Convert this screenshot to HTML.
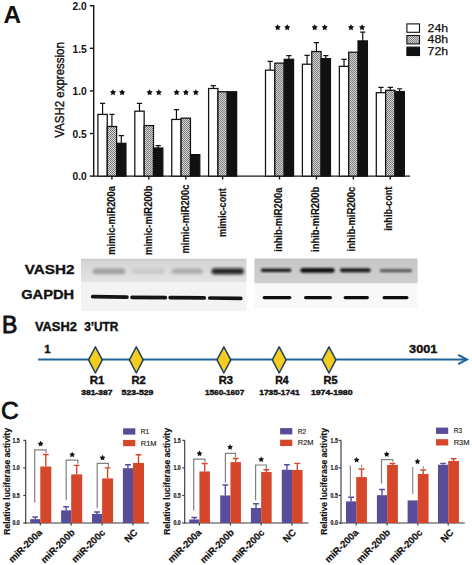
<!DOCTYPE html>
<html><head><meta charset="utf-8"><title>VASH2 figure</title>
<style>
html,body{margin:0;padding:0;background:#fff;}
body{width:472px;height:565px;overflow:hidden;}
svg{display:block;font-family:"Liberation Sans",sans-serif;}
</style></head><body>
<svg width="472" height="565" viewBox="0 0 472 565">
<defs>
<pattern id="chk" width="2" height="2" patternUnits="userSpaceOnUse">
<rect width="2" height="2" fill="#d6d6d6"/><rect width="1" height="1" fill="#7c7c7c"/><rect x="1" y="1" width="1" height="1" fill="#7c7c7c"/>
</pattern>
<linearGradient id="gl" x1="0" y1="0" x2="0" y2="1"><stop offset="0" stop-color="#c8c8c8"/><stop offset="0.12" stop-color="#d6d6d6"/><stop offset="0.6" stop-color="#dddddd"/><stop offset="1" stop-color="#e4e4e4"/></linearGradient>
<linearGradient id="gr" x1="0" y1="0" x2="0" y2="1"><stop offset="0" stop-color="#c6c6c6"/><stop offset="0.5" stop-color="#cbcbcb"/><stop offset="1" stop-color="#cfcfcf"/></linearGradient>
<filter id="b1_5" x="-20%" y="-150%" width="140%" height="400%"><feGaussianBlur stdDeviation="1.5"/></filter><filter id="b0_9" x="-20%" y="-150%" width="140%" height="400%"><feGaussianBlur stdDeviation="0.9"/></filter><filter id="b0_7" x="-20%" y="-150%" width="140%" height="400%"><feGaussianBlur stdDeviation="0.7"/></filter><filter id="b0_75" x="-20%" y="-150%" width="140%" height="400%"><feGaussianBlur stdDeviation="0.75"/></filter>
</defs>
<rect width="472" height="565" fill="#fff"/>
<g id="panelA">
<text x="3.4" y="22.8" font-size="24.3" font-weight="bold" fill="#111">A</text>
<g stroke="#1a1a1a" stroke-width="1.4" fill="none">
<line x1="93.7" y1="5.1" x2="93.7" y2="176.7"/>
<line x1="93.1" y1="176.1" x2="410" y2="176.1"/>
<line x1="89.8" y1="176.1" x2="93.7" y2="176.1"/>
<line x1="89.8" y1="133.5" x2="93.7" y2="133.5"/>
<line x1="89.8" y1="90.9" x2="93.7" y2="90.9"/>
<line x1="89.8" y1="48.3" x2="93.7" y2="48.3"/>
<line x1="89.8" y1="5.7" x2="93.7" y2="5.7"/>
<line x1="111.93" y1="176.1" x2="111.93" y2="179.5"/>
<line x1="148.83" y1="176.1" x2="148.83" y2="179.5"/>
<line x1="185.78" y1="176.1" x2="185.78" y2="179.5"/>
<line x1="222.62" y1="176.1" x2="222.62" y2="179.5"/>
<line x1="279.52" y1="176.1" x2="279.52" y2="179.5"/>
<line x1="316.42" y1="176.1" x2="316.42" y2="179.5"/>
<line x1="353.38" y1="176.1" x2="353.38" y2="179.5"/>
<line x1="390.32" y1="176.1" x2="390.32" y2="179.5"/>
</g>
<g font-size="10" font-weight="bold" fill="#111">
<text x="72.6" y="180.4" textLength="14.2" lengthAdjust="spacingAndGlyphs">0.0</text>
<text x="72.6" y="137.8" textLength="14.2" lengthAdjust="spacingAndGlyphs">0.5</text>
<text x="72.6" y="95.2" textLength="14.2" lengthAdjust="spacingAndGlyphs">1.0</text>
<text x="72.6" y="52.6" textLength="14.2" lengthAdjust="spacingAndGlyphs">1.5</text>
<text x="72.6" y="10" textLength="14.2" lengthAdjust="spacingAndGlyphs">2.0</text>
</g>
<text transform="translate(64.2,89.9) rotate(-90)" text-anchor="middle" font-size="12.2" fill="#111" stroke="#111" stroke-width="0.35" textLength="95.6" lengthAdjust="spacingAndGlyphs">VASH2 expression</text>
<g stroke="#111" stroke-width="1.25">
<rect x="97.9" y="114.42" width="9.35" height="61.68" fill="#ffffff"/>
<rect x="107.25" y="126.51" width="9.35" height="49.59" fill="url(#chk)"/>
<rect x="116.6" y="143.3" width="9.35" height="32.8" fill="#111111"/>
<rect x="134.8" y="111.18" width="9.35" height="64.92" fill="#ffffff"/>
<rect x="144.15" y="125.58" width="9.35" height="50.52" fill="url(#chk)"/>
<rect x="153.5" y="147.98" width="9.35" height="28.12" fill="#111111"/>
<rect x="171.75" y="119.44" width="9.35" height="56.66" fill="#ffffff"/>
<rect x="181.1" y="118.16" width="9.35" height="57.94" fill="url(#chk)"/>
<rect x="190.45" y="154.63" width="9.35" height="21.47" fill="#111111"/>
<rect x="208.6" y="88.51" width="9.35" height="87.59" fill="#ffffff"/>
<rect x="217.95" y="91.75" width="9.35" height="84.35" fill="url(#chk)"/>
<rect x="227.3" y="91.75" width="9.35" height="84.35" fill="#111111"/>
<rect x="265.5" y="70.2" width="9.35" height="105.9" fill="#ffffff"/>
<rect x="274.85" y="63.12" width="9.35" height="112.98" fill="url(#chk)"/>
<rect x="284.2" y="59.29" width="9.35" height="116.81" fill="#111111"/>
<rect x="302.4" y="64.23" width="9.35" height="111.87" fill="#ffffff"/>
<rect x="311.75" y="51.54" width="9.35" height="124.56" fill="url(#chk)"/>
<rect x="321.1" y="58.61" width="9.35" height="117.49" fill="#111111"/>
<rect x="339.35" y="66.36" width="9.35" height="109.74" fill="#ffffff"/>
<rect x="348.7" y="52.22" width="9.35" height="123.88" fill="url(#chk)"/>
<rect x="358.05" y="40.89" width="9.35" height="135.21" fill="#111111"/>
<rect x="376.3" y="92.69" width="9.35" height="83.41" fill="#ffffff"/>
<rect x="385.65" y="90.3" width="9.35" height="85.8" fill="url(#chk)"/>
<rect x="395" y="91.58" width="9.35" height="84.52" fill="#111111"/>
</g>
<g stroke="#111" stroke-width="1.2" fill="none">
<path d="M102.58 114.42V103.42M99.98 103.42H105.17"/>
<path d="M111.92 126.51V114.42M109.33 114.42H114.52"/>
<path d="M121.28 143.3V135.72M118.68 135.72H123.88"/>
<path d="M139.48 111.18V103.42M136.88 103.42H142.08"/>
<path d="M158.18 147.98V145.6M155.58 145.6H160.78"/>
<path d="M176.43 119.44V109.64M173.83 109.64H179.03"/>
<path d="M213.28 88.51V85.62M210.68 85.62H215.88"/>
<path d="M270.18 70.2V61.34M267.57 61.34H272.78"/>
<path d="M288.88 59.29V55.63M286.27 55.63H291.48"/>
<path d="M307.07 64.23V55.29M304.47 55.29H309.68"/>
<path d="M316.43 51.54V42.59M313.82 42.59H319.03"/>
<path d="M325.77 58.61V55.63M323.17 55.63H328.38"/>
<path d="M344.03 66.36V59.29M341.43 59.29H346.63"/>
<path d="M362.73 40.89V32.2M360.12 32.2H365.33"/>
<path d="M380.98 92.69V87.41M378.38 87.41H383.58"/>
<path d="M390.33 90.3V87.41M387.73 87.41H392.93"/>
<path d="M399.68 91.58V88.77M397.07 88.77H402.28"/>
</g>
<polygon points="113,89.25 114,91.12 116.09,91.5 114.62,93.03 114.91,95.13 113,94.2 111.09,95.13 111.38,93.03 109.91,91.5 112,91.12" fill="#111"/>
<polygon points="122.1,89.25 123.1,91.12 125.19,91.5 123.72,93.03 124.01,95.13 122.1,94.2 120.19,95.13 120.48,93.03 119.01,91.5 121.1,91.12" fill="#111"/>
<polygon points="149.6,89.25 150.6,91.12 152.69,91.5 151.22,93.03 151.51,95.13 149.6,94.2 147.69,95.13 147.98,93.03 146.51,91.5 148.6,91.12" fill="#111"/>
<polygon points="158.8,89.25 159.8,91.12 161.89,91.5 160.42,93.03 160.71,95.13 158.8,94.2 156.89,95.13 157.18,93.03 155.71,91.5 157.8,91.12" fill="#111"/>
<polygon points="176.6,89.25 177.6,91.12 179.69,91.5 178.22,93.03 178.51,95.13 176.6,94.2 174.69,95.13 174.98,93.03 173.51,91.5 175.6,91.12" fill="#111"/>
<polygon points="185.9,89.25 186.9,91.12 188.99,91.5 187.52,93.03 187.81,95.13 185.9,94.2 183.99,95.13 184.28,93.03 182.81,91.5 184.9,91.12" fill="#111"/>
<polygon points="195.8,89.25 196.8,91.12 198.89,91.5 197.42,93.03 197.71,95.13 195.8,94.2 193.89,95.13 194.18,93.03 192.71,91.5 194.8,91.12" fill="#111"/>
<polygon points="277.7,24.25 278.7,26.12 280.79,26.5 279.32,28.03 279.61,30.13 277.7,29.2 275.79,30.13 276.08,28.03 274.61,26.5 276.7,26.12" fill="#111"/>
<polygon points="287.2,24.25 288.2,26.12 290.29,26.5 288.82,28.03 289.11,30.13 287.2,29.2 285.29,30.13 285.58,28.03 284.11,26.5 286.2,26.12" fill="#111"/>
<polygon points="314.7,24.25 315.7,26.12 317.79,26.5 316.32,28.03 316.61,30.13 314.7,29.2 312.79,30.13 313.08,28.03 311.61,26.5 313.7,26.12" fill="#111"/>
<polygon points="324.7,24.25 325.7,26.12 327.79,26.5 326.32,28.03 326.61,30.13 324.7,29.2 322.79,30.13 323.08,28.03 321.61,26.5 323.7,26.12" fill="#111"/>
<polygon points="351,24.25 352,26.12 354.09,26.5 352.62,28.03 352.91,30.13 351,29.2 349.09,30.13 349.38,28.03 347.91,26.5 350,26.12" fill="#111"/>
<polygon points="362.1,24.25 363.1,26.12 365.19,26.5 363.72,28.03 364.01,30.13 362.1,29.2 360.19,30.13 360.48,28.03 359.01,26.5 361.1,26.12" fill="#111"/>
<g stroke="#111" stroke-width="1.1">
<rect x="406.9" y="23.9" width="12.6" height="8.4" fill="#ffffff"/>
<rect x="406.9" y="35.5" width="12.6" height="8.4" fill="url(#chk)"/>
<rect x="406.9" y="47.1" width="12.6" height="8.4" fill="#111111"/>
</g>
<g font-size="10.9" fill="#111" stroke="#111" stroke-width="0.25">
<text x="427.6" y="31.5" textLength="20.5" lengthAdjust="spacingAndGlyphs">24h</text>
<text x="427.6" y="43.15" textLength="20.5" lengthAdjust="spacingAndGlyphs">48h</text>
<text x="427.6" y="54.8" textLength="20.5" lengthAdjust="spacingAndGlyphs">72h</text>
</g>
<g font-size="10.4" font-weight="bold" fill="#111" stroke="#111" stroke-width="0.15">
<text transform="translate(115.33,254.7) rotate(-90)" textLength="68.7" lengthAdjust="spacingAndGlyphs">mimic-miR200a</text>
<text transform="translate(152.23,254.9) rotate(-90)" textLength="69.5" lengthAdjust="spacingAndGlyphs">mimic-miR200b</text>
<text transform="translate(189.18,253.5) rotate(-90)" textLength="68.9" lengthAdjust="spacingAndGlyphs">mimic-miR200c</text>
<text transform="translate(226.03,236.9) rotate(-90)" textLength="48.8" lengthAdjust="spacingAndGlyphs">mimic-cont</text>
<text transform="translate(281.62,251.7) rotate(-90)" textLength="64.1" lengthAdjust="spacingAndGlyphs">inhib-miR200a</text>
<text transform="translate(318.52,252) rotate(-90)" textLength="65.4" lengthAdjust="spacingAndGlyphs">inhib-miR200b</text>
<text transform="translate(355.48,251.4) rotate(-90)" textLength="64.8" lengthAdjust="spacingAndGlyphs">inhib-miR200c</text>
<text transform="translate(392.43,230.8) rotate(-90)" textLength="44.2" lengthAdjust="spacingAndGlyphs">inhib-cont</text>
</g>
</g>
<g id="blot">
<g font-size="13.6" font-weight="bold" text-anchor="end" fill="#111" stroke="#111" stroke-width="0.35">
<text x="74.4" y="274.2" textLength="49.6" lengthAdjust="spacingAndGlyphs">VASH2</text>
<text x="74.2" y="299" textLength="53" lengthAdjust="spacingAndGlyphs">GAPDH</text>
</g>
<rect x="81" y="258.8" width="165.4" height="23.4" fill="url(#gl)"/>
<rect x="81" y="282.2" width="165.4" height="29" fill="#f3f3f3"/>
<rect x="254.4" y="258.5" width="163.2" height="25" fill="url(#gr)"/>
<rect x="254.4" y="283.5" width="163.2" height="24.5" fill="#f8f8f8"/>
<path d="M95.4 268.4 L122.2 268.4 A2.8 2.8 0 0 1 122.2 274 L95.4 274 A2.8 2.8 0 0 1 95.4 268.4 Z" fill="#111" opacity="0.3" filter="url(#b1_5)"/>
<path d="M135 268.4 L161.8 268.4 A2.8 2.8 0 0 1 161.8 274 L135 274 A2.8 2.8 0 0 1 135 268.4 Z" fill="#111" opacity="0.09" filter="url(#b1_5)"/>
<path d="M174.3 268.7 L200 268.7 A2.5 2.5 0 0 1 200 273.7 L174.3 273.7 A2.5 2.5 0 0 1 174.3 268.7 Z" fill="#111" opacity="0.24" filter="url(#b1_5)"/>
<path d="M214.5 268.2 L241 268.2 A3 3 0 0 1 241 274.2 L214.5 274.2 A3 3 0 0 1 214.5 268.2 Z" fill="#111" opacity="0.9" filter="url(#b1_5)"/>
<path d="M262.6 268.4 L289.6 268.4 A1.8 1.8 0 0 1 289.6 272 L262.6 272 A1.8 1.8 0 0 1 262.6 268.4 Z" fill="#111" opacity="0.95" filter="url(#b0_9)"/>
<path d="M302.7 268.1 L332.3 268.1 A2.3 2.3 0 0 1 332.3 272.7 L302.7 272.7 A2.3 2.3 0 0 1 302.7 268.1 Z" fill="#111" opacity="1" filter="url(#b0_9)"/>
<path d="M342 268.3 L368.6 268.3 A2 2 0 0 1 368.6 272.3 L342 272.3 A2 2 0 0 1 342 268.3 Z" fill="#111" opacity="0.95" filter="url(#b0_9)"/>
<path d="M381.4 268.9 L410.4 268.9 A1.7 1.7 0 0 1 410.4 272.3 L381.4 272.3 A1.7 1.7 0 0 1 381.4 268.9 Z" fill="#111" opacity="0.6" filter="url(#b0_9)"/>
<path d="M92.65 294.75 L126.95 295.25 A1.85 1.85 0 0 1 126.95 298.95 L92.65 298.45 A1.85 1.85 0 0 1 92.65 294.75 Z" fill="#111" opacity="0.97" filter="url(#b0_7)"/>
<path d="M132.05 295.45 L165.35 295.75 A1.85 1.85 0 0 1 165.35 299.45 L132.05 299.15 A1.85 1.85 0 0 1 132.05 295.45 Z" fill="#111" opacity="0.97" filter="url(#b0_7)"/>
<path d="M170.15 295.75 L204.25 296.05 A1.85 1.85 0 0 1 204.25 299.75 L170.15 299.45 A1.85 1.85 0 0 1 170.15 295.75 Z" fill="#111" opacity="0.97" filter="url(#b0_7)"/>
<path d="M209.75 296.15 L240.75 296.55 A1.85 1.85 0 0 1 240.75 300.25 L209.75 299.85 A1.85 1.85 0 0 1 209.75 296.15 Z" fill="#111" opacity="0.97" filter="url(#b0_7)"/>
<path d="M264.15 296.05 L289.85 296.05 A1.55 1.55 0 0 1 289.85 299.15 L264.15 299.15 A1.55 1.55 0 0 1 264.15 296.05 Z" fill="#111" opacity="1" filter="url(#b0_75)"/>
<path d="M305.55 296.05 L330.45 296.05 A1.55 1.55 0 0 1 330.45 299.15 L305.55 299.15 A1.55 1.55 0 0 1 305.55 296.05 Z" fill="#111" opacity="1" filter="url(#b0_75)"/>
<path d="M345.15 296.05 L367.35 296.05 A1.55 1.55 0 0 1 367.35 299.15 L345.15 299.15 A1.55 1.55 0 0 1 345.15 296.05 Z" fill="#111" opacity="1" filter="url(#b0_75)"/>
<path d="M384.05 296.05 L406.95 296.05 A1.55 1.55 0 0 1 406.95 299.15 L384.05 299.15 A1.55 1.55 0 0 1 384.05 296.05 Z" fill="#111" opacity="1" filter="url(#b0_75)"/>
</g>
<g id="panelB">
<text x="2.0" y="333.4" font-size="23" fill="#111" stroke="#111" stroke-width="0.85">B</text>
<g font-weight="bold" fill="#111" stroke="#111" stroke-width="0.4">
<text x="35" y="330.9" font-size="12.2" textLength="41.8" lengthAdjust="spacingAndGlyphs">VASH2</text>
<text x="84.2" y="330.9" font-size="12.2" textLength="34.2" lengthAdjust="spacingAndGlyphs">3’UTR</text>
<text x="44.2" y="353.1" font-size="11.4">1</text>
<text x="409.1" y="353.2" font-size="11.6" textLength="28.2" lengthAdjust="spacingAndGlyphs">3001</text>
</g>
<g stroke="#22649a" stroke-width="2.1" fill="none">
<line x1="38.1" y1="359.5" x2="466.8" y2="359.5"/>
<polyline points="458.2,354.8 466.9,359.5 458.2,364.2" stroke-linejoin="miter"/>
</g>
<polygon points="95.4,346.9 102.3,359.9 95.4,373.0 88.5,359.9" fill="#f6cd1c" stroke="#1f3f5c" stroke-width="1.5" stroke-linejoin="round"/>
<polygon points="136.3,346.9 143.2,359.9 136.3,373.0 129.4,359.9" fill="#f6cd1c" stroke="#1f3f5c" stroke-width="1.5" stroke-linejoin="round"/>
<polygon points="223.9,346.9 230.8,359.9 223.9,373.0 217,359.9" fill="#f6cd1c" stroke="#1f3f5c" stroke-width="1.5" stroke-linejoin="round"/>
<polygon points="279.2,346.9 286.1,359.9 279.2,373.0 272.3,359.9" fill="#f6cd1c" stroke="#1f3f5c" stroke-width="1.5" stroke-linejoin="round"/>
<polygon points="329,346.9 335.9,359.9 329,373.0 322.1,359.9" fill="#f6cd1c" stroke="#1f3f5c" stroke-width="1.5" stroke-linejoin="round"/>
<g font-weight="bold" fill="#111" text-anchor="middle" stroke="#111" stroke-width="0.45">
<text x="97" y="384.2" font-size="11.4" textLength="14.6" lengthAdjust="spacingAndGlyphs">R1</text>
<text x="138.5" y="384.2" font-size="11.4" textLength="14.2" lengthAdjust="spacingAndGlyphs">R2</text>
<text x="225.8" y="384.2" font-size="11.4" textLength="14.2" lengthAdjust="spacingAndGlyphs">R3</text>
<text x="282" y="384.2" font-size="11.4" textLength="13.4" lengthAdjust="spacingAndGlyphs">R4</text>
<text x="330.6" y="384.2" font-size="11.4" textLength="14" lengthAdjust="spacingAndGlyphs">R5</text>
<text x="96.8" y="394.6" font-size="8" textLength="31.2" lengthAdjust="spacingAndGlyphs">381-387</text>
<text x="137.5" y="394.6" font-size="8" textLength="31.8" lengthAdjust="spacingAndGlyphs">523-529</text>
<text x="224.6" y="394.6" font-size="8" textLength="39.4" lengthAdjust="spacingAndGlyphs">1560-1607</text>
<text x="279.4" y="394.6" font-size="8" textLength="40.4" lengthAdjust="spacingAndGlyphs">1735-1741</text>
<text x="331.7" y="394.6" font-size="8" textLength="41.6" lengthAdjust="spacingAndGlyphs">1974-1980</text>
</g>
</g>
<text x="0.9" y="419" font-size="24.6" fill="#111" stroke="#111" stroke-width="0.8">C</text>
<g>
<g stroke="#3a3a3a" stroke-width="1.15" fill="none">
<line x1="25.7" y1="440.35" x2="25.7" y2="523.5"/>
<line x1="25.2" y1="523" x2="149" y2="523"/>
<line x1="23.3" y1="523" x2="25.7" y2="523"/>
<line x1="23.3" y1="495.45" x2="25.7" y2="495.45"/>
<line x1="23.3" y1="467.9" x2="25.7" y2="467.9"/>
<line x1="23.3" y1="440.35" x2="25.7" y2="440.35"/>
<line x1="40.3" y1="523" x2="40.3" y2="525.6"/>
<line x1="71.2" y1="523" x2="71.2" y2="525.6"/>
<line x1="102.1" y1="523" x2="102.1" y2="525.6"/>
<line x1="133" y1="523" x2="133" y2="525.6"/>
</g>
<g font-size="6.4" font-weight="bold" text-anchor="end" fill="#1a1a1a" stroke="#1a1a1a" stroke-width="0.2">
<text x="19.7" y="525.3" textLength="7.3" lengthAdjust="spacingAndGlyphs">0.0</text>
<text x="19.7" y="497.75" textLength="7.3" lengthAdjust="spacingAndGlyphs">0.5</text>
<text x="19.7" y="470.2" textLength="7.3" lengthAdjust="spacingAndGlyphs">1.0</text>
<text x="19.7" y="442.65" textLength="7.3" lengthAdjust="spacingAndGlyphs">1.5</text>
</g>
<text transform="translate(10.2,481.4) rotate(-90)" text-anchor="middle" font-size="9.8" font-weight="bold" fill="#111" stroke="#111" stroke-width="0.15" textLength="106.6" lengthAdjust="spacingAndGlyphs">Relative luciferase activity</text>
<rect x="30.2" y="519.14" width="10.1" height="3.86" fill="#574d99"/>
<path d="M35.25 519.14V516.94M32.35 516.94H38.15" stroke="#574d99" stroke-width="1.4" fill="none"/>
<rect x="40.3" y="466.52" width="11" height="56.48" fill="#d5472a"/>
<path d="M45.8 466.52V454.51M42.9 454.51H48.7" stroke="#d5472a" stroke-width="1.4" fill="none"/>
<rect x="61.1" y="510.33" width="10.1" height="12.67" fill="#574d99"/>
<path d="M66.15 510.33V506.8M63.25 506.8H69.05" stroke="#574d99" stroke-width="1.4" fill="none"/>
<rect x="71.2" y="474.4" width="11" height="48.6" fill="#d5472a"/>
<path d="M76.7 474.4V465.42M73.8 465.42H79.6" stroke="#d5472a" stroke-width="1.4" fill="none"/>
<rect x="92" y="513.91" width="10.1" height="9.09" fill="#574d99"/>
<path d="M97.05 513.91V511.98M94.15 511.98H99.95" stroke="#574d99" stroke-width="1.4" fill="none"/>
<rect x="102.1" y="478.42" width="11" height="44.58" fill="#d5472a"/>
<path d="M107.6 478.42V467.9M104.7 467.9H110.5" stroke="#d5472a" stroke-width="1.4" fill="none"/>
<rect x="122.9" y="468.18" width="10.1" height="54.82" fill="#574d99"/>
<path d="M127.95 468.18V464.81M125.05 464.81H130.85" stroke="#574d99" stroke-width="1.4" fill="none"/>
<rect x="133" y="463" width="11" height="60" fill="#d5472a"/>
<path d="M138.5 463V454.68M135.6 454.68H141.4" stroke="#d5472a" stroke-width="1.4" fill="none"/>
<path d="M34.7 502.6V449.8H46.1V452.9" stroke="#808080" stroke-width="1.2" fill="none"/>
<path d="M66.2 500.3V460.2H77.8V463.7" stroke="#808080" stroke-width="1.2" fill="none"/>
<path d="M97.2 508.3V463.4H108.4V467.7" stroke="#808080" stroke-width="1.2" fill="none"/>
<polygon points="40.6,440.85 41.54,442.61 43.5,442.96 42.12,444.39 42.39,446.37 40.6,445.5 38.81,446.37 39.08,444.39 37.7,442.96 39.66,442.61" fill="#111"/>
<polygon points="72.2,451.65 73.14,453.41 75.1,453.76 73.72,455.19 73.99,457.17 72.2,456.3 70.41,457.17 70.68,455.19 69.3,453.76 71.26,453.41" fill="#111"/>
<polygon points="102.5,454.85 103.44,456.61 105.4,456.96 104.02,458.39 104.29,460.37 102.5,459.5 100.71,460.37 100.98,458.39 99.6,456.96 101.56,456.61" fill="#111"/>
<rect x="123.1" y="428.3" width="12.2" height="6.3" fill="#574d99"/>
<rect x="123.1" y="439.9" width="12.2" height="6.3" fill="#d5472a"/>
<g font-size="7.2" fill="#222" stroke="#222" stroke-width="0.15">
<text x="140.8" y="434" textLength="8.4" lengthAdjust="spacingAndGlyphs">R1</text>
<text x="140.8" y="445.6" textLength="15.8" lengthAdjust="spacingAndGlyphs">R1M</text>
</g>
<g font-size="9.6" font-weight="bold" text-anchor="end" fill="#111" stroke="#111" stroke-width="0.2">
<text transform="translate(42.7,533.2) rotate(-45)">miR-200a</text>
<text transform="translate(75.3,533.2) rotate(-45)">miR-200b</text>
<text transform="translate(105.7,533.2) rotate(-45)">miR-200c</text>
<text transform="translate(138.1,533.2) rotate(-45)">NC</text>
</g>
</g>
<g>
<g stroke="#3a3a3a" stroke-width="1.15" fill="none">
<line x1="184.7" y1="440.35" x2="184.7" y2="523.5"/>
<line x1="184.2" y1="523" x2="308.5" y2="523"/>
<line x1="182.3" y1="523" x2="184.7" y2="523"/>
<line x1="182.3" y1="495.45" x2="184.7" y2="495.45"/>
<line x1="182.3" y1="467.9" x2="184.7" y2="467.9"/>
<line x1="182.3" y1="440.35" x2="184.7" y2="440.35"/>
<line x1="199.45" y1="523" x2="199.45" y2="525.6"/>
<line x1="230.45" y1="523" x2="230.45" y2="525.6"/>
<line x1="261.15" y1="523" x2="261.15" y2="525.6"/>
<line x1="292.05" y1="523" x2="292.05" y2="525.6"/>
</g>
<g font-size="6.4" font-weight="bold" text-anchor="end" fill="#1a1a1a" stroke="#1a1a1a" stroke-width="0.2">
<text x="180.7" y="525.3" textLength="7.3" lengthAdjust="spacingAndGlyphs">0.0</text>
<text x="180.7" y="497.75" textLength="7.3" lengthAdjust="spacingAndGlyphs">0.5</text>
<text x="180.7" y="470.2" textLength="7.3" lengthAdjust="spacingAndGlyphs">1.0</text>
<text x="180.7" y="442.65" textLength="7.3" lengthAdjust="spacingAndGlyphs">1.5</text>
</g>
<text transform="translate(170,481.4) rotate(-90)" text-anchor="middle" font-size="9.8" font-weight="bold" fill="#111" stroke="#111" stroke-width="0.15" textLength="106.6" lengthAdjust="spacingAndGlyphs">Relative luciferase activity</text>
<rect x="189.2" y="519.47" width="10.25" height="3.53" fill="#574d99"/>
<path d="M194.32 519.47V517.49M191.42 517.49H197.22" stroke="#574d99" stroke-width="1.4" fill="none"/>
<rect x="199.45" y="471.48" width="10.5" height="51.52" fill="#d5472a"/>
<path d="M204.7 471.48V463.49M201.8 463.49H207.6" stroke="#d5472a" stroke-width="1.4" fill="none"/>
<rect x="220.2" y="495.45" width="10.25" height="27.55" fill="#574d99"/>
<path d="M225.32 495.45V484.98M222.42 484.98H228.22" stroke="#574d99" stroke-width="1.4" fill="none"/>
<rect x="230.45" y="462.11" width="10.5" height="60.89" fill="#d5472a"/>
<path d="M235.7 462.11V458.53M232.8 458.53H238.6" stroke="#d5472a" stroke-width="1.4" fill="none"/>
<rect x="250.9" y="508.01" width="10.25" height="14.99" fill="#574d99"/>
<path d="M256.02 508.01V503.71M253.12 503.71H258.92" stroke="#574d99" stroke-width="1.4" fill="none"/>
<rect x="261.15" y="472.03" width="10.5" height="50.97" fill="#d5472a"/>
<path d="M266.4 472.03V469.72M263.5 469.72H269.3" stroke="#d5472a" stroke-width="1.4" fill="none"/>
<rect x="281.8" y="469.72" width="10.25" height="53.28" fill="#574d99"/>
<path d="M286.93 469.72V464.7M284.03 464.7H289.82" stroke="#574d99" stroke-width="1.4" fill="none"/>
<rect x="292.05" y="469.99" width="10.5" height="53.01" fill="#d5472a"/>
<path d="M297.3 469.99V463.33M294.4 463.33H300.2" stroke="#d5472a" stroke-width="1.4" fill="none"/>
<path d="M193.7 510.5V459.1H204.9V462" stroke="#808080" stroke-width="1.2" fill="none"/>
<path d="M225.4 482.8V453.3H235.5V457.3" stroke="#808080" stroke-width="1.2" fill="none"/>
<path d="M255.6 500.3V465H266.3V469.3" stroke="#808080" stroke-width="1.2" fill="none"/>
<polygon points="199.5,450.55 200.44,452.31 202.4,452.66 201.02,454.09 201.29,456.07 199.5,455.2 197.71,456.07 197.98,454.09 196.6,452.66 198.56,452.31" fill="#111"/>
<polygon points="230.1,444.15 231.04,445.91 233,446.26 231.62,447.69 231.89,449.67 230.1,448.8 228.31,449.67 228.58,447.69 227.2,446.26 229.16,445.91" fill="#111"/>
<polygon points="261.2,456.45 262.14,458.21 264.1,458.56 262.72,459.99 262.99,461.97 261.2,461.1 259.41,461.97 259.68,459.99 258.3,458.56 260.26,458.21" fill="#111"/>
<rect x="280.1" y="428.1" width="12.2" height="6.3" fill="#574d99"/>
<rect x="280.1" y="439.7" width="12.2" height="6.3" fill="#d5472a"/>
<g font-size="7.2" fill="#222" stroke="#222" stroke-width="0.15">
<text x="297.8" y="433.8" textLength="8.4" lengthAdjust="spacingAndGlyphs">R2</text>
<text x="297.8" y="445.4" textLength="15.8" lengthAdjust="spacingAndGlyphs">R2M</text>
</g>
<g font-size="9.6" font-weight="bold" text-anchor="end" fill="#111" stroke="#111" stroke-width="0.2">
<text transform="translate(202,533.2) rotate(-45)">miR-200a</text>
<text transform="translate(234.6,533.2) rotate(-45)">miR-200b</text>
<text transform="translate(265.1,533.2) rotate(-45)">miR-200c</text>
<text transform="translate(296.6,533.2) rotate(-45)">NC</text>
</g>
</g>
<g>
<g stroke="#3a3a3a" stroke-width="1.15" fill="none">
<line x1="341" y1="440.35" x2="341" y2="523.5"/>
<line x1="340.5" y1="523" x2="464.8" y2="523"/>
<line x1="338.6" y1="523" x2="341" y2="523"/>
<line x1="338.6" y1="495.45" x2="341" y2="495.45"/>
<line x1="338.6" y1="467.9" x2="341" y2="467.9"/>
<line x1="338.6" y1="440.35" x2="341" y2="440.35"/>
<line x1="356.2" y1="523" x2="356.2" y2="525.6"/>
<line x1="387.1" y1="523" x2="387.1" y2="525.6"/>
<line x1="417.8" y1="523" x2="417.8" y2="525.6"/>
<line x1="448.2" y1="523" x2="448.2" y2="525.6"/>
</g>
<g font-size="6.4" font-weight="bold" text-anchor="end" fill="#1a1a1a" stroke="#1a1a1a" stroke-width="0.2">
<text x="337.9" y="525.3" textLength="7.3" lengthAdjust="spacingAndGlyphs">0.0</text>
<text x="337.9" y="497.75" textLength="7.3" lengthAdjust="spacingAndGlyphs">0.5</text>
<text x="337.9" y="470.2" textLength="7.3" lengthAdjust="spacingAndGlyphs">1.0</text>
<text x="337.9" y="442.65" textLength="7.3" lengthAdjust="spacingAndGlyphs">1.5</text>
</g>
<text transform="translate(326.8,481.4) rotate(-90)" text-anchor="middle" font-size="9.8" font-weight="bold" fill="#111" stroke="#111" stroke-width="0.15" textLength="106.6" lengthAdjust="spacingAndGlyphs">Relative luciferase activity</text>
<rect x="346" y="501.4" width="10.2" height="21.6" fill="#574d99"/>
<path d="M351.1 501.4V497.32M348.2 497.32H354" stroke="#574d99" stroke-width="1.4" fill="none"/>
<rect x="356.2" y="477.1" width="10.75" height="45.9" fill="#d5472a"/>
<path d="M361.57 477.1V469M358.68 469H364.47" stroke="#d5472a" stroke-width="1.4" fill="none"/>
<rect x="376.9" y="495.17" width="10.2" height="27.83" fill="#574d99"/>
<path d="M382 495.17V489.5M379.1 489.5H384.9" stroke="#574d99" stroke-width="1.4" fill="none"/>
<rect x="387.1" y="464.98" width="10.75" height="58.02" fill="#d5472a"/>
<path d="M392.47 464.98V463.49M389.57 463.49H395.37" stroke="#d5472a" stroke-width="1.4" fill="none"/>
<rect x="407.6" y="500.41" width="10.2" height="22.59" fill="#574d99"/>
<rect x="417.8" y="474.02" width="10.75" height="48.98" fill="#d5472a"/>
<path d="M423.18 474.02V469.99M420.28 469.99H426.07" stroke="#d5472a" stroke-width="1.4" fill="none"/>
<rect x="438" y="464.7" width="10.2" height="58.3" fill="#574d99"/>
<path d="M443.1 464.7V463.33M440.2 463.33H446" stroke="#574d99" stroke-width="1.4" fill="none"/>
<rect x="448.2" y="461.01" width="10.75" height="61.99" fill="#d5472a"/>
<path d="M453.57 461.01V458.81M450.68 458.81H456.47" stroke="#d5472a" stroke-width="1.4" fill="none"/>
<line x1="350.4" y1="497.3" x2="350.4" y2="465.4" stroke="#8c8c8c" stroke-width="1.2"/>
<path d="M381.5 483.6V459.7H392.8V461.8" stroke="#808080" stroke-width="1.2" fill="none"/>
<line x1="412.7" y1="494" x2="412.7" y2="466.9" stroke="#8c8c8c" stroke-width="1.2"/>
<polygon points="356.6,456.95 357.54,458.71 359.5,459.06 358.12,460.49 358.39,462.47 356.6,461.6 354.81,462.47 355.08,460.49 353.7,459.06 355.66,458.71" fill="#111"/>
<polygon points="386.7,451.35 387.64,453.11 389.6,453.46 388.22,454.89 388.49,456.87 386.7,456 384.91,456.87 385.18,454.89 383.8,453.46 385.76,453.11" fill="#111"/>
<polygon points="417.5,458.55 418.44,460.31 420.4,460.66 419.02,462.09 419.29,464.07 417.5,463.2 415.71,464.07 415.98,462.09 414.6,460.66 416.56,460.31" fill="#111"/>
<rect x="436" y="427.6" width="12.2" height="6.3" fill="#574d99"/>
<rect x="436" y="439.2" width="12.2" height="6.3" fill="#d5472a"/>
<g font-size="7.2" fill="#222" stroke="#222" stroke-width="0.15">
<text x="453.7" y="433.3" textLength="8.4" lengthAdjust="spacingAndGlyphs">R3</text>
<text x="453.7" y="444.9" textLength="15.8" lengthAdjust="spacingAndGlyphs">R3M</text>
</g>
<g font-size="9.6" font-weight="bold" text-anchor="end" fill="#111" stroke="#111" stroke-width="0.2">
<text transform="translate(359,533.2) rotate(-45)">miR-200a</text>
<text transform="translate(390.9,533.2) rotate(-45)">miR-200b</text>
<text transform="translate(423.1,533.2) rotate(-45)">miR-200c</text>
<text transform="translate(454.2,533.2) rotate(-45)">NC</text>
</g>
</g>
<path d="M361.6 464.9V467.2M423.4 466.6V468.8" stroke="#7d8894" stroke-width="1.1"/>
</svg>
</body></html>
